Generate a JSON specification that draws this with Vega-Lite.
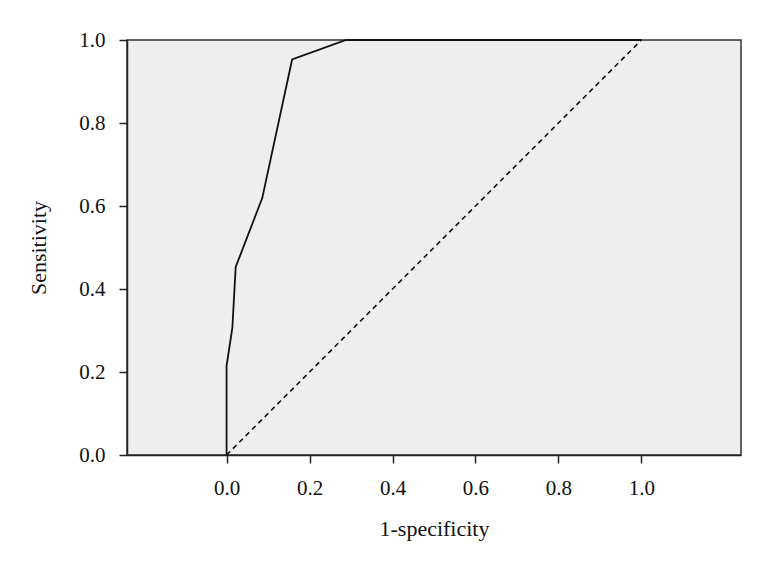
{
  "$schema": "https://vega.github.io/schema/vega-lite/v6.json",
  "width": 614,
  "height": 415,
  "padding": {"left": 127, "top": 40, "right": 24, "bottom": 113},
  "autosize": {"type": "none"},
  "background": "white",
  "config": {
    "view": {"fill": "#eeeeee", "stroke": "#333333", "strokeWidth": 1.5},
    "font": "Liberation Serif",
    "axis": {
      "grid": false,
      "domainColor": "#222222",
      "domainWidth": 1.5,
      "tickColor": "#222222",
      "tickSize": 8,
      "tickWidth": 1.5,
      "labelFont": "Liberation Serif",
      "labelFontSize": 21,
      "labelColor": "#111111",
      "titleFont": "Liberation Serif",
      "titleFontSize": 22,
      "titleFontWeight": "normal",
      "titleColor": "#111111"
    }
  },
  "datasets": {
    "roc": [
      {"fpr": 0, "sens": 0},
      {"fpr": 0, "sens": 0.215},
      {"fpr": 0.014, "sens": 0.307},
      {"fpr": 0.022, "sens": 0.453},
      {"fpr": 0.086, "sens": 0.619},
      {"fpr": 0.158, "sens": 0.953},
      {"fpr": 0.288, "sens": 1},
      {"fpr": 1, "sens": 1}
    ],
    "ref": [
      {"fpr": 0, "sens": 0},
      {"fpr": 1, "sens": 1}
    ]
  },
  "layer": [
    {
      "data": {"name": "ref"},
      "mark": {"type": "line", "color": "#111111", "strokeWidth": 1.6, "strokeDash": [5, 4]},
      "encoding": {
        "x": {"field": "fpr", "type": "quantitative"},
        "y": {"field": "sens", "type": "quantitative"}
      }
    },
    {
      "data": {"name": "roc"},
      "mark": {"type": "line", "color": "#111111", "strokeWidth": 1.8},
      "encoding": {
        "x": {
          "field": "fpr",
          "type": "quantitative",
          "scale": {"domain": [-0.24, 1.24], "nice": false, "zero": false},
          "axis": {"values": [0, 0.2, 0.4, 0.6, 0.8, 1.0], "format": ".1f", "title": "1-specificity", "labelPadding": 14, "titlePadding": 20}
        },
        "y": {
          "field": "sens",
          "type": "quantitative",
          "scale": {"domain": [0, 1], "nice": false},
          "axis": {"values": [0, 0.2, 0.4, 0.6, 0.8, 1.0], "format": ".1f", "title": "Sensitivity", "labelPadding": 14, "titlePadding": 28}
        }
      }
    }
  ]
}
